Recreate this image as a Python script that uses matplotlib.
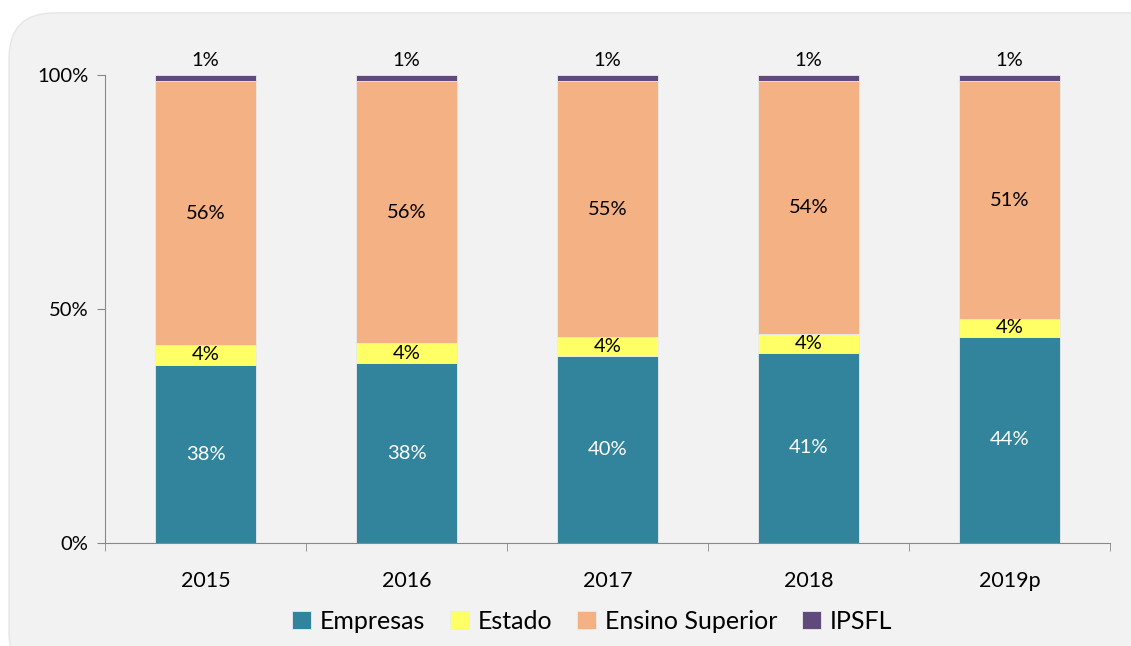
import matplotlib.pyplot as plt
import numpy as np
from matplotlib.patches import FancyBboxPatch

plt.rcParams['font.family'] = ['Lato', 'DejaVu Sans']

# dados (% da despesa em I&D por sector de execução)
anos = ['2015', '2016', '2017', '2018', '2019p']
empresas = [38.0, 38.4, 40.0, 40.7, 44.1]
estado = [4.4, 4.3, 4.0, 3.9, 3.8]
ensino_superior = [56.2, 55.9, 54.6, 54.0, 50.7]
ipsfl = [1.4, 1.4, 1.4, 1.4, 1.4]

series = [
    ('Empresas', empresas, '#31849b', 'white'),
    ('Estado', estado, '#ffff66', 'black'),
    ('Ensino Superior', ensino_superior, '#f4b183', 'black'),
    ('IPSFL', ipsfl, '#604a7b', 'black'),
]

fig = plt.figure(figsize=(11.31, 6.46), dpi=100)
fig.patch.set_facecolor('white')
fundo = FancyBboxPatch((0.008, -0.05), 1.05, 1.03, boxstyle='round,pad=0,rounding_size=0.04',
                       transform=fig.transFigure, facecolor='#f2f2f2', edgecolor='#e6e6e6',
                       mutation_aspect=1131/646, zorder=-10)
fig.patches.append(fundo)

ax = fig.add_axes([0.0928, 0.1594, 0.8886, 0.7246])
ax.set_facecolor('none')

x = np.arange(len(anos))
base = np.zeros(len(anos))
for nome, vals, cor, cor_txt in series:
    vals = np.array(vals)
    ax.bar(x, vals, 0.5, bottom=base, color=cor, edgecolor='#eaeaea', linewidth=0.6, label=nome)
    for xi, b, v in zip(x, base, vals):
        if nome == 'IPSFL':
            ax.text(xi, b + v + 1.3, f'{v:.0f}%', ha='center', va='bottom', fontsize=14.5, color=cor_txt)
        else:
            ax.text(xi, b + v / 2, f'{v:.0f}%', ha='center', va='center', fontsize=14.5, color=cor_txt)
    base += vals

ax.set_xlim(-0.5, len(anos) - 0.5)
ax.set_ylim(0, 100)
ax.set_yticks([0, 50, 100])
ax.set_yticklabels(['0%', '50%', '100%'], fontsize=14.5)
ax.set_xticks(x)
ax.set_xticklabels(anos, fontsize=15.5)
ax.set_xticks(np.arange(-0.5, len(anos)), minor=True)
ax.tick_params(axis='x', which='major', length=0, pad=20)
ax.tick_params(axis='x', which='minor', length=6, color='#888888')
ax.tick_params(axis='y', length=6, color='#888888', pad=6)
for s in ['top', 'right']:
    ax.spines[s].set_visible(False)
for s in ['left', 'bottom']:
    ax.spines[s].set_color('#888888')

ax.legend(loc='upper center', bbox_to_anchor=(0.485, -0.095), ncol=4, frameon=False,
          fontsize=18, handlelength=0.75, handleheight=0.75, handletextpad=0.35, columnspacing=1.0)

fig.savefig('out.png', dpi=100, facecolor=fig.get_facecolor())
